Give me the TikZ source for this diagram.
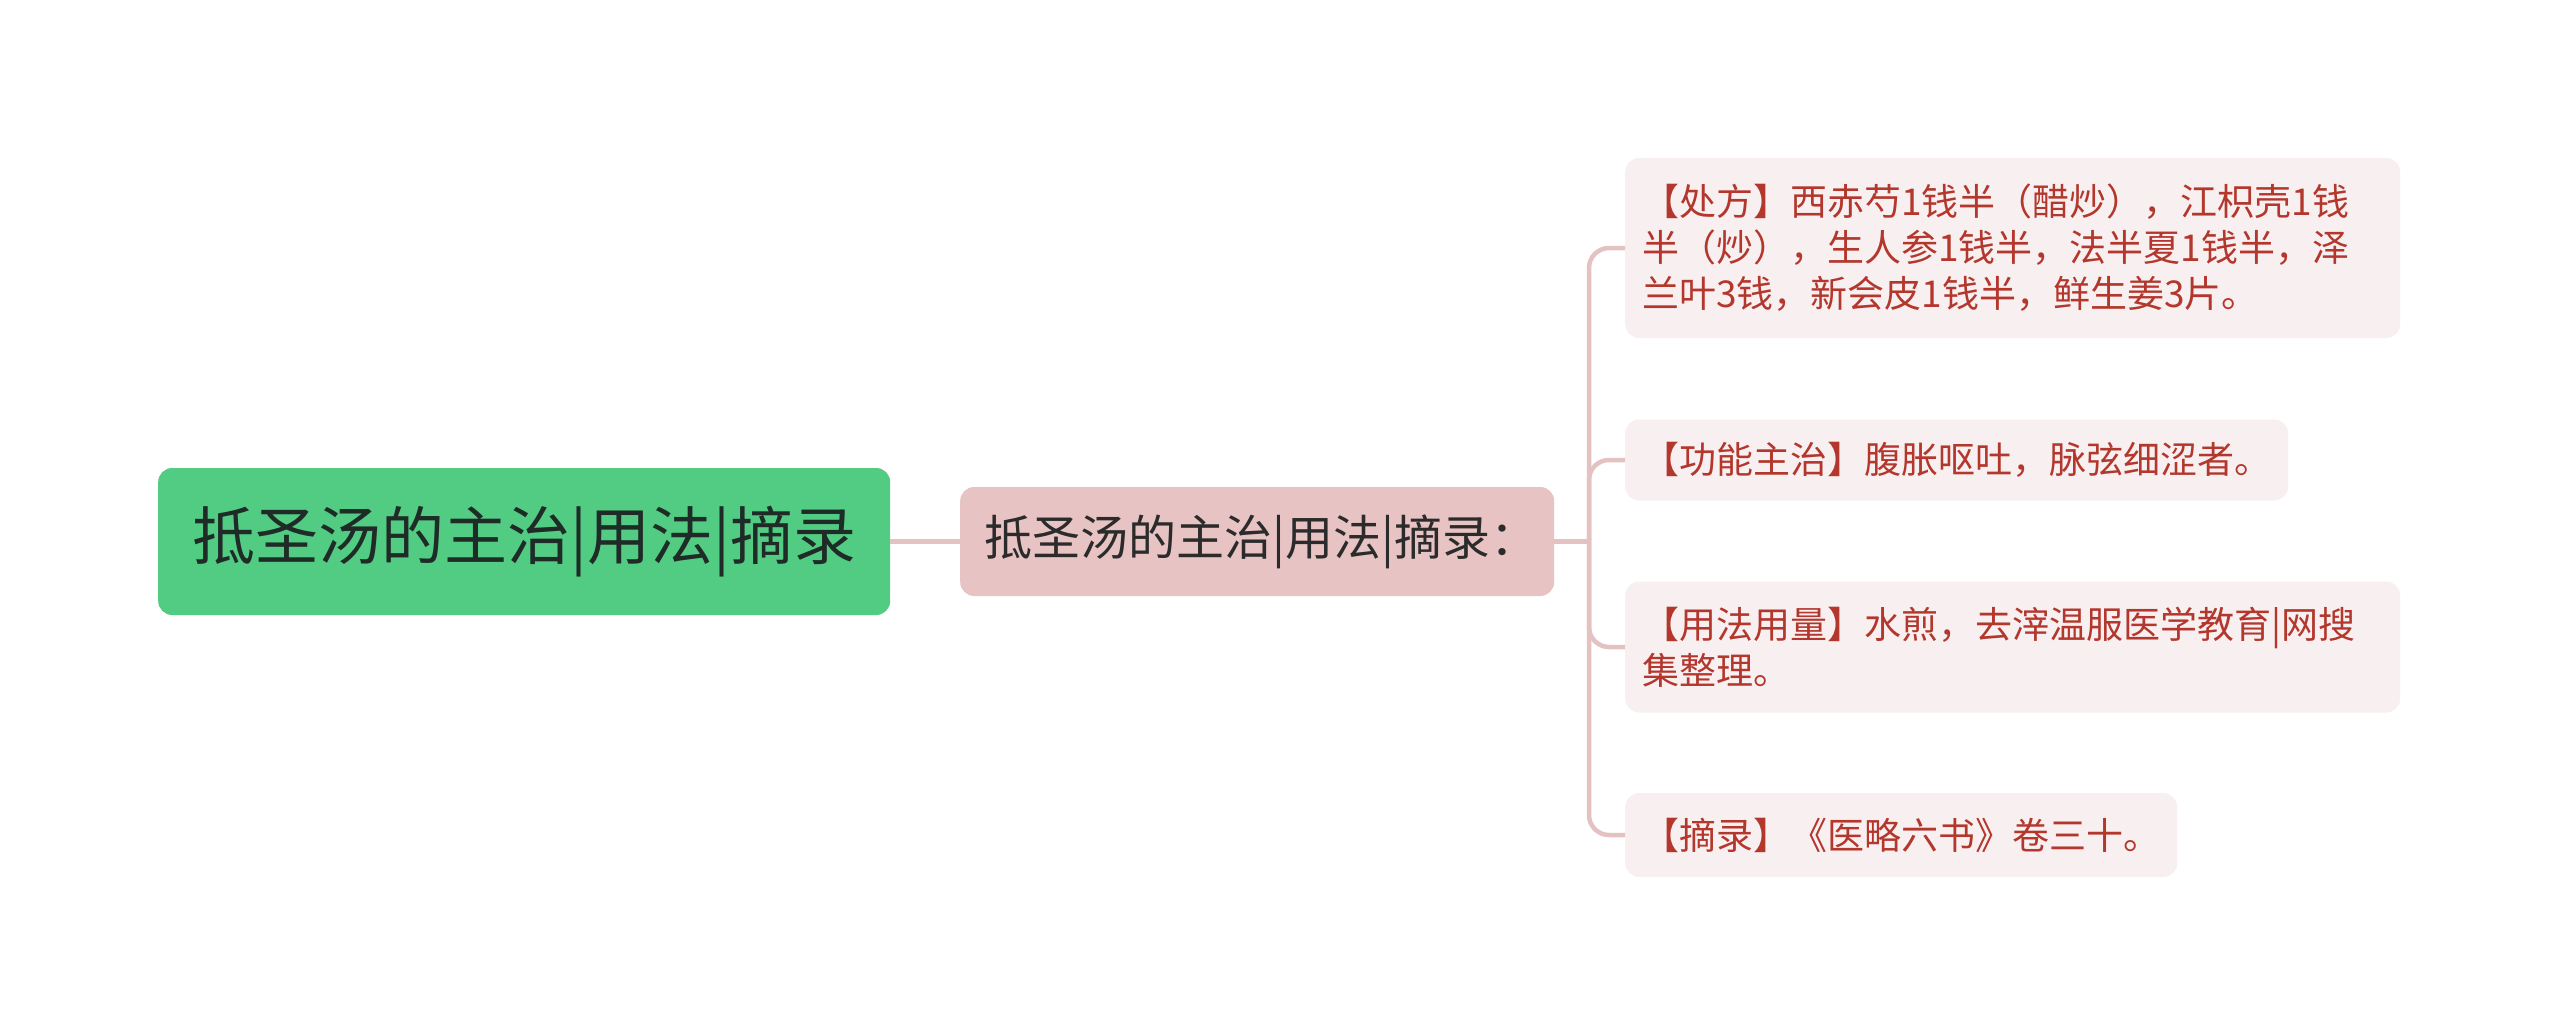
\documentclass[tikz,border=0pt]{standalone}
\usepackage{fontspec}
\setmainfont{Noto Sans CJK SC}
\definecolor{rootfill}{HTML}{52CC83}
\definecolor{roottext}{HTML}{1E2B26}
\definecolor{midfill}{HTML}{E8C3C3}
\definecolor{midtext}{HTML}{2B2B2B}
\definecolor{leaffill}{HTML}{F8F0F0}
\definecolor{leaftext}{HTML}{B3372D}
\definecolor{conncol}{HTML}{E4C2C2}
\tikzset{
  rootbox/.style={fill=rootfill, text=roottext, rounded corners=14pt, minimum width=732pt, minimum height=147pt, inner sep=0pt, font=\fontsize{63}{70}\selectfont},
  midbox/.style={fill=midfill, text=midtext, rounded corners=14pt, minimum height=109pt, inner xsep=24pt, inner ysep=0pt, text width=546pt, align=left, font=\fontsize{48}{54}\selectfont},
  leafbox/.style={fill=leaffill, text=leaftext, rounded corners=14pt, inner xsep=17pt, inner ysep=0pt, align=left, font=\fontsize{37}{46}\selectfont},
  conn/.style={draw=conncol, line width=4.5pt}
}
\begin{document}
\begin{tikzpicture}[x=1pt,y=-1pt]
\useasboundingbox[fill=white] (0,0) rectangle (2560,1036);
\node[rootbox, anchor=west] (root) at (158,541.5) {抵圣汤的主治|用法|摘录};
\node[midbox, anchor=west] (mid) at (960,541.5) {抵圣汤的主治|用法|摘录：};
\node[leafbox, anchor=west, text width=741pt, minimum height=180pt] (l1) at (1625,248) {【处方】西赤芍1钱半（醋炒），江枳壳1钱\\半（炒），生人参1钱半，法半夏1钱半，泽\\兰叶3钱，新会皮1钱半，鲜生姜3片。};
\node[leafbox, anchor=west, minimum height=81pt] (l2) at (1625,460) {【功能主治】腹胀呕吐，脉弦细涩者。};
\node[leafbox, anchor=west, text width=741pt, minimum height=131pt] (l3) at (1625,647) {【用法用量】水煎，去滓温服医学教育|网搜\\集整理。};
\node[leafbox, anchor=west, minimum height=84pt] (l4) at (1625,835) {【摘录】《医略六书》卷三十。};
\coordinate (j) at (1589,541.5);
\draw[conn] (root.east) -- (mid.west);
\draw[conn] (mid.east) -- (j);
\foreach \n in {l1,l2,l3,l4}{
  \draw[conn, rounded corners=20pt] (j) |- (\n.west);
}
\end{tikzpicture}
\end{document}
